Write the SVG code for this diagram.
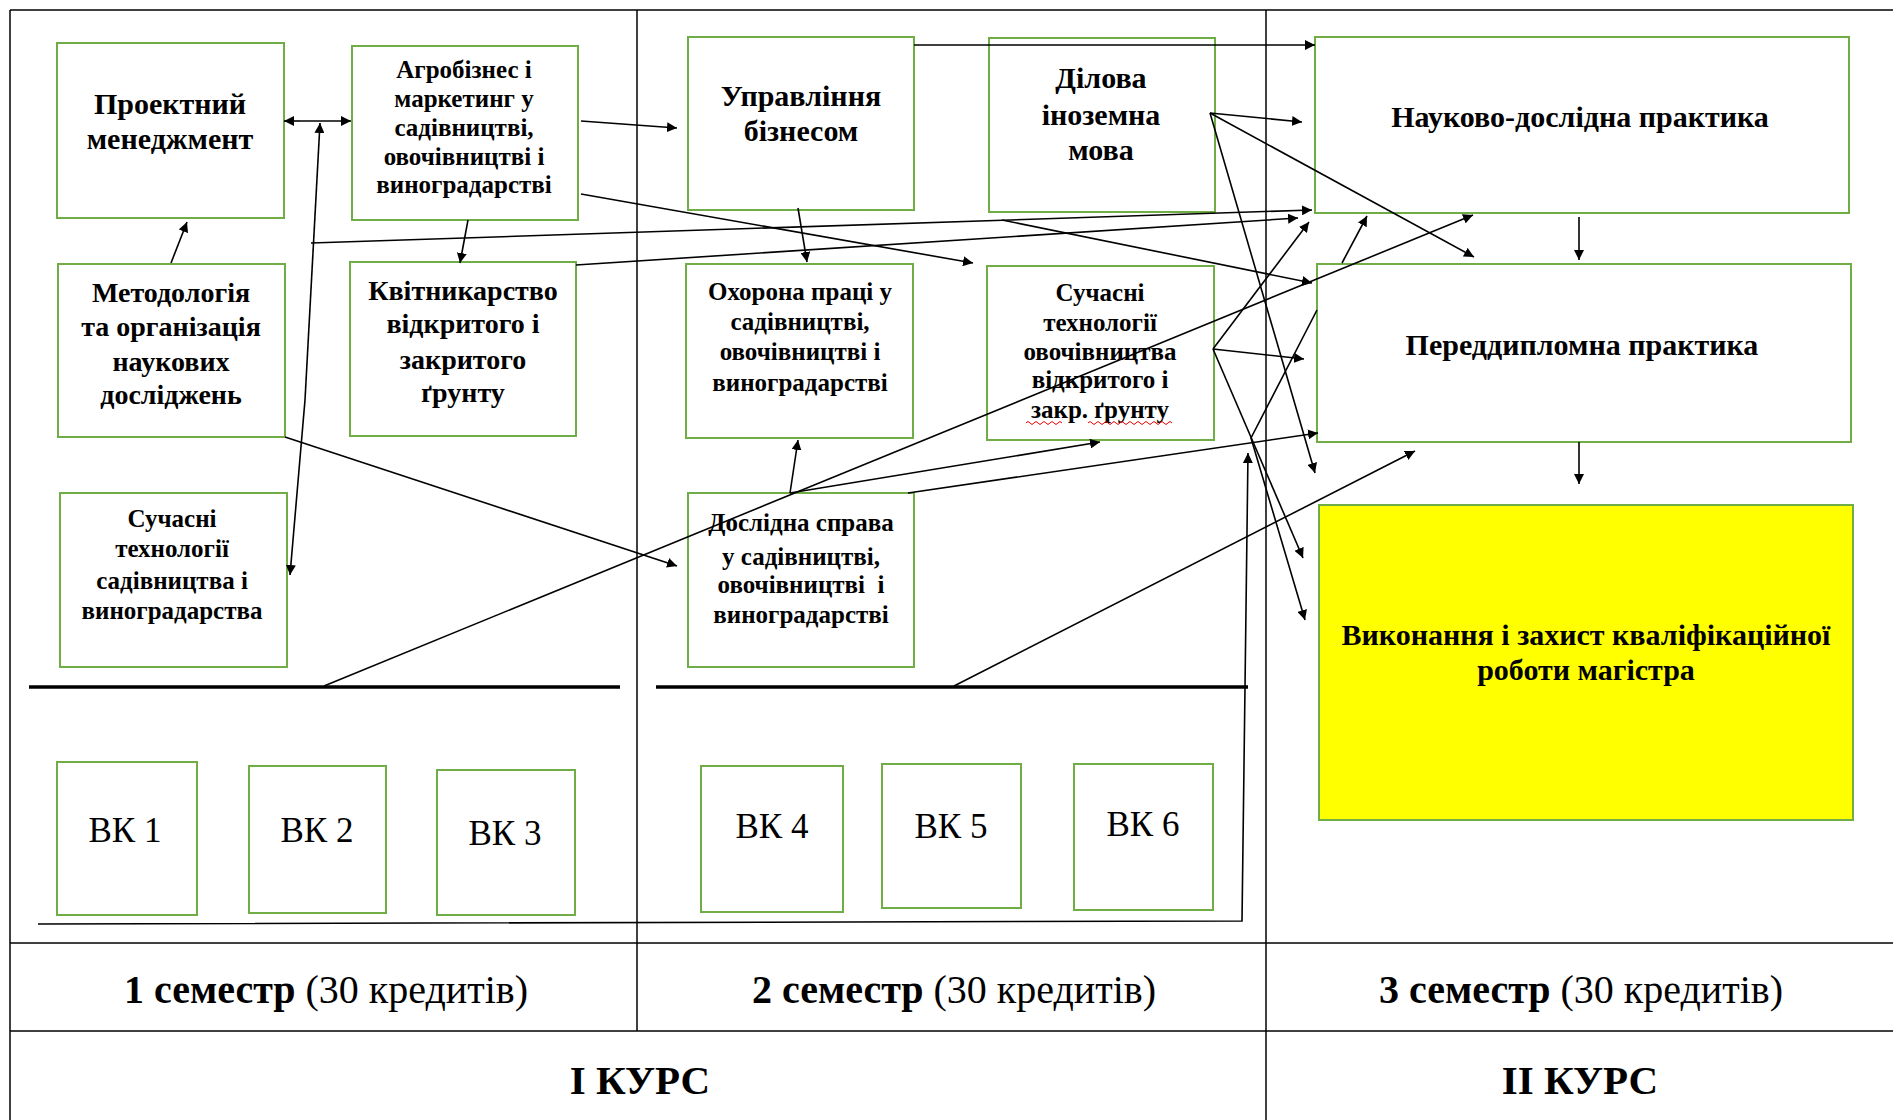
<svg xmlns="http://www.w3.org/2000/svg" width="1893" height="1120" viewBox="0 0 1893 1120">
<defs>
<marker id="ah" viewBox="0 0 10 10" refX="10" refY="5" markerWidth="10" markerHeight="10" markerUnits="userSpaceOnUse" orient="auto-start-reverse">
<path d="M0,0 L10,5 L0,10 z" fill="#000"/>
</marker>
<style>
.box{fill:#fff;stroke:#70ad47;stroke-width:2}
.t{font-family:"Liberation Serif","Times New Roman",serif;font-weight:bold;text-anchor:middle;fill:#000}
.r{font-family:"Liberation Serif","Times New Roman",serif;text-anchor:middle;fill:#000}
.c{fill:none;stroke:#000;stroke-width:1.6}
.a{fill:none;stroke:#000;stroke-width:1.6;marker-end:url(#ah)}
.grid{stroke:#000;stroke-width:1.5;fill:none}
</style>
</defs>
<rect width="1893" height="1120" fill="#fff"/>
<g id="table">
<line class="grid" x1="10" y1="10" x2="1893" y2="10"/>
<line class="grid" x1="10" y1="10" x2="10" y2="1120"/>
<line class="grid" x1="637" y1="10" x2="637" y2="1031"/>
<line class="grid" x1="1266" y1="10" x2="1266" y2="1120"/>
<line class="grid" x1="10" y1="943" x2="1893" y2="943" stroke-width="2.5"/>
<line class="grid" x1="10" y1="1031" x2="1893" y2="1031" stroke-width="2.5"/>
<line x1="29" y1="687" x2="620" y2="687" stroke="#000" stroke-width="3.5"/>
<line x1="656" y1="687" x2="1248" y2="687" stroke="#000" stroke-width="3.5"/>
<text class="t" x="326" y="1003" font-size="40">1 семестр <tspan font-weight="normal">(30 кредитів)</tspan></text>
<text class="t" x="954" y="1003" font-size="40">2 семестр <tspan font-weight="normal">(30 кредитів)</tspan></text>
<text class="t" x="1581" y="1003" font-size="40">3 семестр <tspan font-weight="normal">(30 кредитів)</tspan></text>
<text class="t" x="640" y="1094" font-size="41">І КУРС</text>
<text class="t" x="1580" y="1094" font-size="41">ІІ КУРС</text>
</g>
<g id="n-proekt"><rect class="box" x="57" y="43" width="227" height="175"/><text class="t" font-size="30"><tspan x="170" y="114">Проектний</tspan><tspan x="170" y="149">менеджмент</tspan></text></g>
<g id="n-agro"><rect class="box" x="352" y="46" width="226" height="174"/><text class="t" font-size="25"><tspan x="464" y="78">Агробізнес і</tspan><tspan x="464" y="107">маркетинг у</tspan><tspan x="464" y="136">садівництві,</tspan><tspan x="464" y="165">овочівництві і</tspan><tspan x="464" y="193">виноградарстві</tspan></text></g>
<g id="n-metod"><rect class="box" x="58" y="264" width="227" height="173"/><text class="t" font-size="28"><tspan x="171" y="302">Методологія</tspan><tspan x="171" y="336">та організація</tspan><tspan x="171" y="371">наукових</tspan><tspan x="171" y="404">досліджень</tspan></text></g>
<g id="n-kvit"><rect class="box" x="350" y="262" width="226" height="174"/><text class="t" font-size="28"><tspan x="463" y="300">Квітникарство</tspan><tspan x="463" y="333">відкритого і</tspan><tspan x="463" y="369">закритого</tspan><tspan x="463" y="402">ґрунту</tspan></text></g>
<g id="n-sad"><rect class="box" x="60" y="493" width="227" height="174"/><text class="t" font-size="25"><tspan x="172" y="527">Сучасні</tspan><tspan x="172" y="557">технології</tspan><tspan x="172" y="589">садівництва і</tspan><tspan x="172" y="619">виноградарства</tspan></text></g>
<g id="n-vk1"><rect class="box" x="57" y="762" width="140" height="153"/><text class="r" x="125" y="842" font-size="35">ВК 1</text></g>
<g id="n-vk2"><rect class="box" x="249" y="766" width="137" height="147"/><text class="r" x="317" y="842" font-size="35">ВК 2</text></g>
<g id="n-vk3"><rect class="box" x="437" y="770" width="138" height="145"/><text class="r" x="505" y="845" font-size="35">ВК 3</text></g>
<g id="n-upr"><rect class="box" x="688" y="37" width="226" height="173"/><text class="t" font-size="30"><tspan x="801" y="106">Управління</tspan><tspan x="801" y="141">бізнесом</tspan></text></g>
<g id="n-dil"><rect class="box" x="989" y="38" width="226" height="174"/><text class="t" font-size="30"><tspan x="1101" y="88">Ділова</tspan><tspan x="1101" y="125">іноземна</tspan><tspan x="1101" y="160">мова</tspan></text></g>
<g id="n-ohor"><rect class="box" x="686" y="264" width="227" height="174"/><text class="t" font-size="25"><tspan x="800" y="300">Охорона праці у</tspan><tspan x="800" y="330">садівництві,</tspan><tspan x="800" y="360">овочівництві і</tspan><tspan x="800" y="391">виноградарстві</tspan></text></g>
<g id="n-ovoch"><rect class="box" x="987" y="266" width="227" height="174"/><text class="t" font-size="25"><tspan x="1100" y="301">Сучасні</tspan><tspan x="1100" y="331">технології</tspan><tspan x="1100" y="360">овочівництва</tspan><tspan x="1100" y="388">відкритого і</tspan><tspan x="1100" y="418">закр. ґрунту</tspan></text><path d="M1026,423 q2,-3 4,0 t4,0 t4,0 t4,0 t4,0 t4,0 t4,0 t4,0 t4,0 M1088,423 q2,-3 4,0 t4,0 t4,0 t4,0 t4,0 t4,0 t4,0 t4,0 t4,0 t4,0 t4,0 t4,0 t4,0 t4,0 t4,0 t4,0 t4,0 t4,0 t4,0 t4,0 t4,0" fill="none" stroke="#e00" stroke-width="1"/></g>
<g id="n-dosl"><rect class="box" x="688" y="493" width="226" height="174"/><text class="t" font-size="25"><tspan x="801" y="531">Дослідна справа</tspan><tspan x="801" y="565">у садівництві,</tspan><tspan x="801" y="593">овочівництві&#160; і</tspan><tspan x="801" y="623">виноградарстві</tspan></text></g>
<g id="n-vk4"><rect class="box" x="701" y="766" width="142" height="146"/><text class="r" x="772" y="838" font-size="35">ВК 4</text></g>
<g id="n-vk5"><rect class="box" x="882" y="764" width="139" height="144"/><text class="r" x="951" y="838" font-size="35">ВК 5</text></g>
<g id="n-vk6"><rect class="box" x="1074" y="764" width="139" height="146"/><text class="r" x="1143" y="836" font-size="35">ВК 6</text></g>
<g id="n-nauk"><rect class="box" x="1315" y="37" width="534" height="176"/><text class="t" x="1580" y="127" font-size="30">Науково-дослідна практика</text></g>
<g id="n-pered"><rect class="box" x="1317" y="264" width="534" height="178"/><text class="t" x="1582" y="355" font-size="30">Переддипломна практика</text></g>
<g id="n-vyk"><rect class="box" x="1319" y="505" width="534" height="315" style="fill:#ffff00"/><text class="t" font-size="30"><tspan x="1586" y="645">Виконання і захист кваліфікаційної</tspan><tspan x="1586" y="680">роботи магістра</tspan></text></g>
<g id="connectors">
<line class="a" x1="300" y1="121" x2="284" y2="121"/>
<line class="a" x1="300" y1="121" x2="351" y2="121"/>
<line class="a" x1="305" y1="400" x2="320" y2="123"/>
<line class="a" x1="305" y1="400" x2="290" y2="575"/>
<line class="a" x1="171" y1="263" x2="187" y2="222"/>
<line class="a" x1="468" y1="220" x2="460" y2="263"/>
<line class="a" x1="581" y1="121" x2="677" y2="128"/>
<line class="a" x1="581" y1="194" x2="973" y2="263"/>
<line class="a" x1="311" y1="243" x2="1312" y2="210"/>
<line class="a" x1="576" y1="265" x2="1298" y2="218"/>
<line class="a" x1="798" y1="208" x2="807" y2="262"/>
<line class="a" x1="914" y1="45" x2="1315" y2="45"/>
<line class="a" x1="1210" y1="113" x2="1302" y2="122"/>
<line class="a" x1="1210" y1="113" x2="1474" y2="257"/>
<line class="a" x1="1210" y1="113" x2="1315" y2="473"/>
<line class="a" x1="1002" y1="220" x2="1312" y2="283"/>
<line class="a" x1="1213" y1="349" x2="1304" y2="359"/>
<line class="a" x1="1213" y1="349" x2="1309" y2="222"/>
<line class="a" x1="1213" y1="349" x2="1303" y2="558"/>
<polyline class="a" points="1317,310 1251,438 1305,620"/>
<line class="a" x1="1342" y1="263" x2="1367" y2="216"/>
<line class="a" x1="324" y1="686" x2="1473" y2="215"/>
<line class="a" x1="954" y1="686" x2="1415" y2="451"/>
<line class="a" x1="908" y1="493" x2="1318" y2="433"/>
<line class="a" x1="790" y1="493" x2="798" y2="440"/>
<line class="a" x1="790" y1="493" x2="1100" y2="442"/>
<line class="a" x1="285" y1="437" x2="677" y2="566"/>
<line class="a" x1="1579" y1="217" x2="1579" y2="260"/>
<line class="a" x1="1579" y1="442" x2="1579" y2="484"/>
<polyline class="a" points="38,924 1242,921 1248,453"/>
</g>
</svg>
